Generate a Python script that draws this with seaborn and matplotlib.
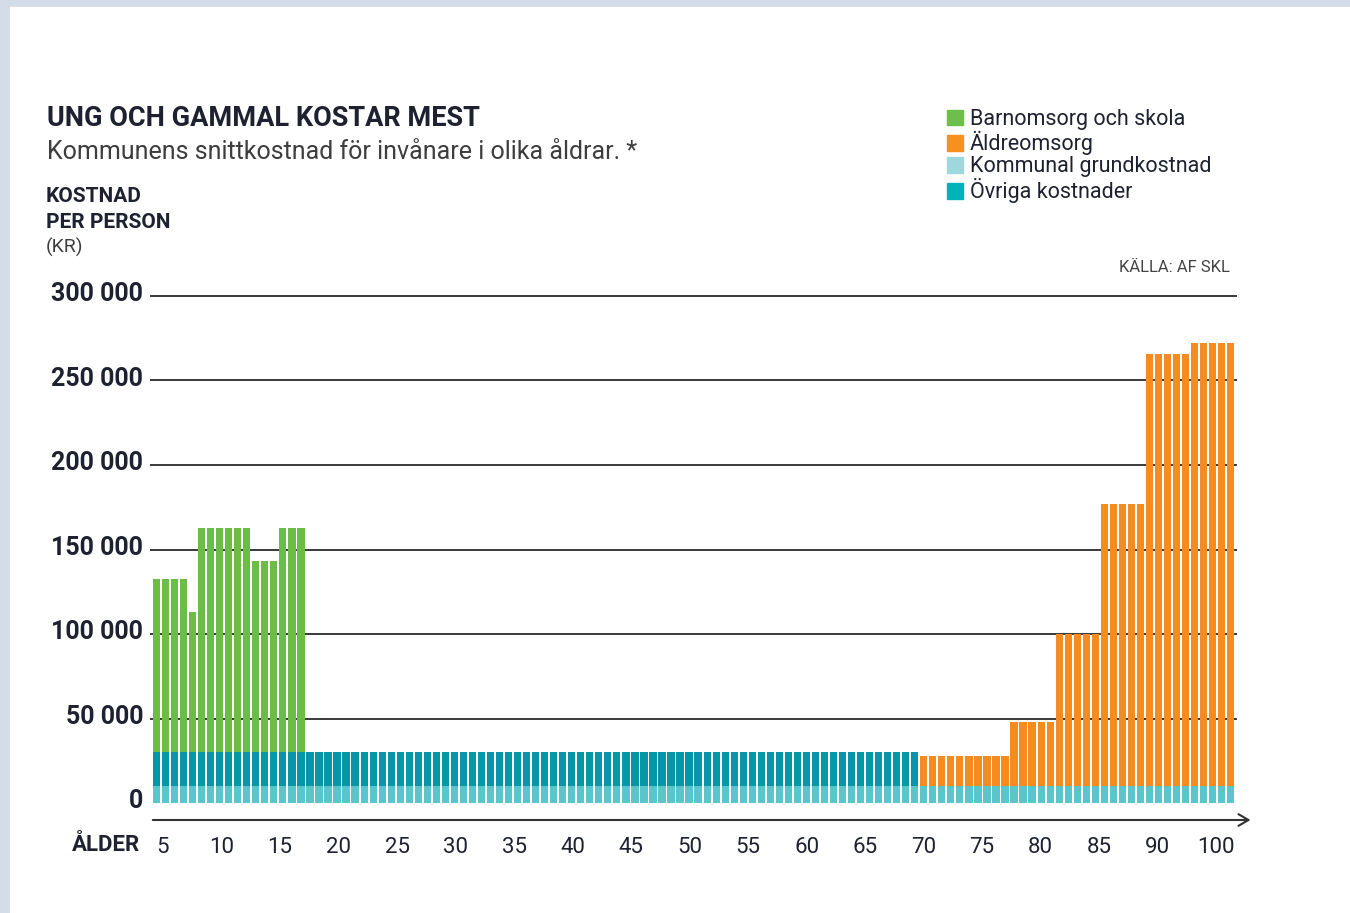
import numpy as np
import pandas as pd
import matplotlib.pyplot as plt
import seaborn as sns
from matplotlib.patches import Patch, Rectangle
from matplotlib.transforms import ScaledTranslation

# Data (kr per person), one bar per age step, 120 bars in total
n_bars = 120
grundkostnad = 10000        # light teal base, every bar
ovriga = 20000              # dark teal, bars before the orange part
n_ovriga = 85

barnomsorg = [102500, 102500, 102500, 102500, 83000,
              133000, 133000, 133000, 133000, 133000, 133000,
              113000, 113000, 113000,
              133000, 133000, 133000]
aldreomsorg = ([18000] * 10 + [38000] * 5 + [90000] * 5 +
               [167000] * 5 + [255500] * 5 + [262000] * 5)

age_labels = ['5', '10', '15', '20', '25', '30', '35', '40', '45', '50',
              '55', '60', '65', '70', '75', '80', '85', '90', '100']
y_ticks = [0, 50000, 100000, 150000, 200000, 250000, 300000]

# colours
c_barn = '#6cbd45'
c_aldre = '#f68b1f'
c_grund = '#5bc5cc'
c_ovriga = '#0596a8'
txt = '#1e2230'

# build stacked heights
bar = np.arange(n_bars)
grund = np.full(n_bars, grundkostnad)
ovr = np.where(bar < n_ovriga, ovriga, 0)
barn = np.zeros(n_bars)
barn[:len(barnomsorg)] = barnomsorg
aldre = np.zeros(n_bars)
aldre[n_bars - len(aldreomsorg):] = aldreomsorg

df = pd.DataFrame({
    'bar': bar,
    'green': grund + ovr + barn,
    'orange': grund + ovr + aldre,
    'teal': grund + ovr,
    'light': grund,
})

sns.set_theme(style='white')
plt.rcParams['font.family'] = ['Roboto', 'DejaVu Sans']

fig = plt.figure(figsize=(13.5, 9.13), dpi=100, facecolor='#d3dce8')
fig.patches.append(Rectangle((10 / 1350, 0), 1, 1 - 7 / 913, transform=fig.transFigure,
                             color='white', zorder=-10))

ax = fig.add_axes([150 / 1350, 1 - 820 / 913, 1087 / 1350, (820 - 292.6) / 913])
ax.set_facecolor('none')

# layered bars, tallest first so the lower parts sit on top
for col, c in [('green', c_barn), ('orange', c_aldre), ('teal', c_ovriga), ('light', c_grund)]:
    sns.barplot(data=df, x='bar', y=col, color=c, saturation=1, width=0.8,
                linewidth=0, errorbar=None, ax=ax)

ax.set_xlim(-0.72, 119.7)
ax.set_ylim(-10000, 302000)
ax.set_xlabel('')
ax.set_ylabel('')
for s in ax.spines.values():
    s.set_visible(False)

for v in y_ticks[1:]:
    ax.axhline(v, color='#3a3a3a', lw=1.4, zorder=0.5)

ax.set_yticks(y_ticks)
ax.set_yticklabels([f'{v:,}'.replace(',', ' ') for v in y_ticks],
                   fontsize=18, fontweight='bold', color=txt)
ax.set_xticks(np.linspace(0.72, 117.4, len(age_labels)))
ax.set_xticklabels(age_labels, fontsize=16, color=txt)
ax.tick_params(axis='y', length=0, pad=5)
ax.tick_params(axis='x', length=0, pad=12)
for lab in ax.get_yticklabels():
    lab.set_transform(lab.get_transform() + ScaledTranslation(0, 3 / 72, fig.dpi_scale_trans))

# x axis with arrow
ax.annotate('', xy=(1.015, 0), xycoords='axes fraction', xytext=(0, 0),
            arrowprops=dict(arrowstyle='->,head_length=0.6,head_width=0.35',
                            color='#333333', lw=1.5),
            annotation_clip=False)


def fx(x):
    return x / 1350


def fy(y):
    return 1 - y / 913


fig.text(fx(47), fy(118), 'UNG OCH GAMMAL KOSTAR MEST', fontsize=19.5, fontweight='bold',
         color=txt, va='center')
fig.text(fx(47), fy(152), 'Kommunens snittkostnad för invånare i olika åldrar. *',
         fontsize=18, color='#3d3d3d', va='center')
fig.text(fx(46), fy(196), 'KOSTNAD', fontsize=15, fontweight='bold', color=txt, va='center')
fig.text(fx(46), fy(222), 'PER PERSON', fontsize=15, fontweight='bold', color=txt, va='center')
fig.text(fx(46), fy(247), '(KR)', fontsize=14, color='#3d3d3d', va='center')
fig.text(fx(1230), fy(268), 'KÄLLA: AF SKL', fontsize=12, color='#444444',
         ha='right', va='center')
fig.text(fx(140), fy(845), 'ÅLDER', fontsize=16, fontweight='bold', color=txt,
         ha='right', va='center')

handles = [Patch(color='#6cbf4a', label='Barnomsorg och skola'),
           Patch(color='#f7901e', label='Äldreomsorg'),
           Patch(color='#9ed8dd', label='Kommunal grundkostnad'),
           Patch(color='#00b3ba', label='Övriga kostnader')]
ax.legend(handles=handles, loc='upper left', bbox_to_anchor=(fx(947), fy(109)),
          bbox_transform=fig.transFigure, frameon=False, fontsize=15.5,
          handlelength=0.75, handleheight=0.75, handletextpad=0.3,
          labelspacing=0.05, borderpad=0, borderaxespad=0, labelcolor=txt)

fig.savefig('out.png', dpi=100, facecolor=fig.get_facecolor())
